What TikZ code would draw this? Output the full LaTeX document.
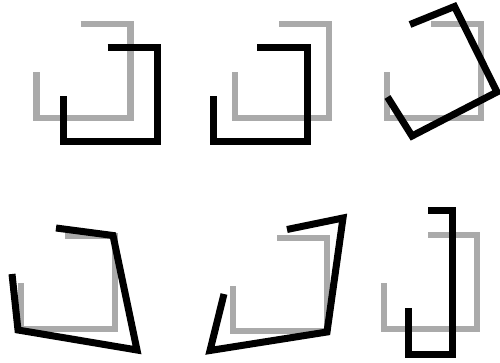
\documentclass[tikz,border=0pt]{standalone}
\usepackage{tikz}
\definecolor{ghost}{HTML}{AAAAAA}
\begin{document}
\begin{tikzpicture}[x=1pt,y=-1pt,
  orig/.style={line width=6.5pt,ghost,line join=miter},
  moved/.style={line width=7pt,black,line join=miter}]
  \useasboundingbox (0,0) rectangle (500,363);
  \draw[orig] (80.5,24)--(130.5,24)--(130.5,118)--(36.5,118)--(36.5,72);
  \draw[moved] (107.5,48)--(157.5,48)--(157.5,142)--(63.5,142)--(63.5,96);
  \draw[orig] (279,24)--(329,24)--(329,118)--(235,118)--(235,72);
  \draw[moved] (257,48)--(307,48)--(307,142)--(213,142)--(213,96);
  \draw[orig] (431,24)--(481,24)--(481,118)--(387,118)--(387,72);
  \draw[moved] (410,24.5)--(454.5,6.5)--(497,92)--(412,136)--(387.5,97);
  \draw[orig] (65,236)--(115,236)--(115,329)--(21,329)--(21,283);
  \draw[moved] (56,228)--(113,235.5)--(137,350)--(18,330)--(12,274);
  \draw[orig] (277,238)--(327,238)--(327,331)--(233,331)--(233,286);
  \draw[moved] (287,229.5)--(343,218)--(327,332)--(210,350.5)--(224,294);
  \draw[orig] (428,235)--(477,235)--(477,329)--(384,329)--(384,283);
  \draw[moved] (428,210.5)--(452.5,210.5)--(452.5,354.5)--(408.5,354.5)--(408.5,308);
\end{tikzpicture}
\end{document}
